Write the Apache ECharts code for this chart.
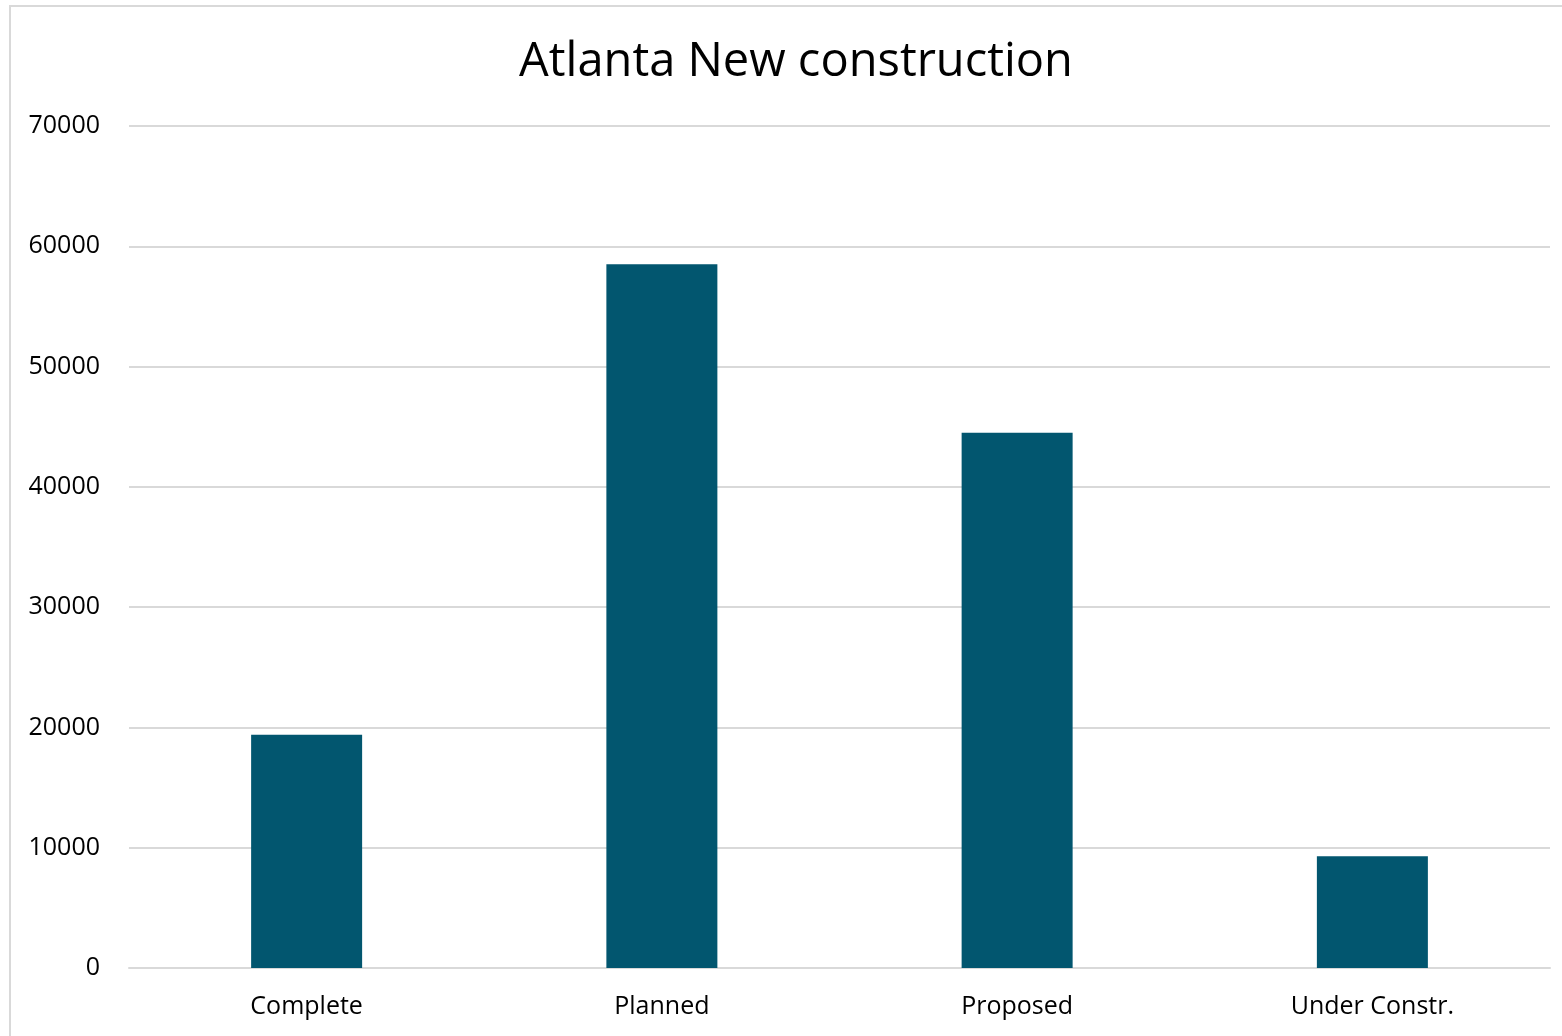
<!DOCTYPE html>
<html>
<head>
<meta charset="utf-8">
<script src="https://cdn.jsdelivr.net/npm/echarts@6/dist/echarts.min.js"></script>
<style>html,body{margin:0;padding:0;background:#fff;}#c{width:1562px;height:1036px;}</style>
</head>
<body>
<div id="c"></div>
<script>
const categories = ['Complete', 'Planned', 'Proposed', 'Under Constr.'];
const values = [19400, 58500, 44500, 9300];
const titleText = 'Atlanta New construction';

const chart = echarts.init(document.getElementById('c'));
chart.setOption({
  animation: false,
  backgroundColor: '#fff',
  title: {
    text: titleText,
    left: 791, top: 34, textAlign: 'center',
    textStyle: { fontFamily: 'Open Sans', fontSize: 47, fontWeight: 'normal', color: '#000' }
  },
  graphic: [{
    type: 'rect', shape: { x: 10, y: 6, width: 1600, height: 1100 },
    style: { fill: 'none', stroke: '#d9d9d9', lineWidth: 2 }, silent: true, z: -1
  }],
  grid: { left: 129, right: 12, top: 126, bottom: 68, containLabel: false },
  xAxis: {
    type: 'category', data: categories,
    axisLine: { show: true, lineStyle: { color: '#d9d9d9', width: 2 } },
    axisTick: { show: false },
    axisLabel: { fontFamily: 'Open Sans', fontSize: 25, color: '#000', margin: 26 }
  },
  yAxis: {
    type: 'value', min: 0, max: 70000, interval: 10000,
    axisLine: { show: false }, axisTick: { show: false },
    splitLine: { lineStyle: { color: '#d9d9d9', width: 2 } },
    axisLabel: { fontFamily: 'Open Sans', fontSize: 25, color: '#000', margin: 29,
      formatter: function (v) { return String(v); } }
  },
  series: [{
    type: 'bar', data: values, barWidth: 111,
    itemStyle: { color: '#02566f' }
  }]
});
</script>
</body>
</html>
